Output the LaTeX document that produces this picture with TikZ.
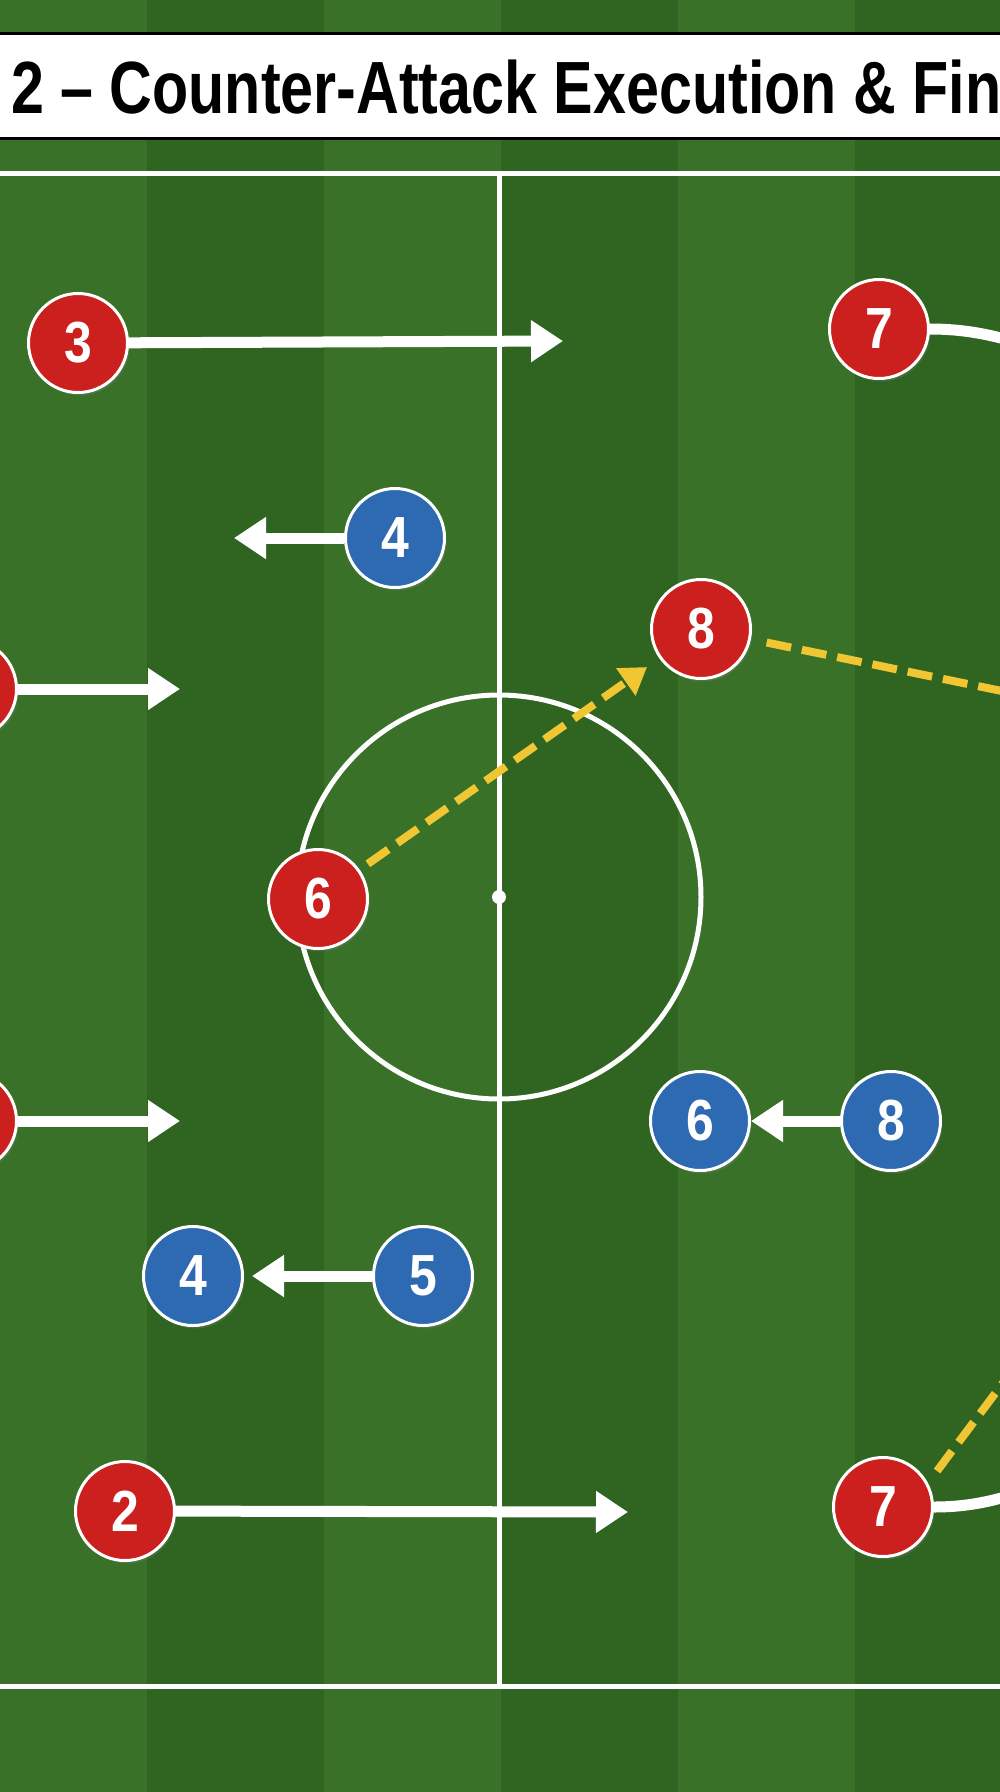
\documentclass[tikz,border=0pt]{standalone}
\usepackage{fontspec}
\setmainfont{Liberation Sans}
\newfontfamily\titlefont[FakeStretch=0.8]{Liberation Sans}
\newfontfamily\numfont[FakeStretch=0.86]{Liberation Sans}
\usetikzlibrary{arrows.meta}
\usetikzlibrary{positioning}
\usetikzlibrary{shadows}

\definecolor{turflight}{RGB}{57,113,40}
\definecolor{turfdark}{RGB}{47,100,33}
\definecolor{homered}{RGB}{204,32,30}
\definecolor{awayblue}{RGB}{46,106,178}
\definecolor{passyellow}{RGB}{240,198,50}

\tikzset{
  player/.style={circle, minimum size=99pt, inner sep=0pt, draw=white, line width=3pt,
                 text=white, font=\numfont\bfseries\fontsize{58}{58}\selectfont,
                 drop shadow={opacity=0.3, shadow xshift=2pt, shadow yshift=-3pt}},
  home/.style={player, fill=homered},
  away/.style={player, fill=awayblue},
  run/.style={draw=white, line width=11pt, -{Triangle[width=40pt,length=32pt]}},
  carry/.style={draw=white, line width=11pt},
  pass/.style={draw=passyellow, line width=8pt, dash pattern=on 25pt off 11pt},
  passend/.style={-{Triangle[width=32pt,length=26pt]}},
  pitchline/.style={draw=white, line width=5pt}
}

\begin{document}
\begin{tikzpicture}[x=1pt, y=-1pt]
    \useasboundingbox (0,0) rectangle (1000,1792);
    \clip (0,0) rectangle (1000,1792);

    % Grass stripes
    \foreach \x in {-30,324,678} {
      \fill[turflight] (\x,0) rectangle ++(177,1792);
    }
    \foreach \x in {147,501,855} {
      \fill[turfdark] (\x,0) rectangle ++(177,1792);
    }

    % Title bar
    \fill[white, draw=black, line width=3pt] (-10,33) rectangle (1010,138);
    \node[anchor=base west, inner sep=0pt, font=\titlefont\bfseries\fontsize{74}{74}\selectfont] (title) at (11,113) {2 – Counter-Attack Execution \& Fin};

    % Pitch markings
    \draw[pitchline] (-10,173) -- (1010,173);
    \draw[pitchline] (-10,1686) -- (1010,1686);
    \draw[pitchline] (499,173) -- (499,1686);
    \draw[pitchline] (499,897) circle (202);
    \fill[white] (499,897) circle (7);

    % Attacking side
    \node[home] (r3) at (78,343) {3};
    \coordinate (r3run) at (563,341);
    \draw[run] (r3) -- (r3run);

    \node[home] (rl1) at (-33,689) {};
    \coordinate (rl1run) at (180,689);
    \draw[run] (rl1) -- (rl1run);

    \node[home] (rl2) at (-33,1121) {};
    \coordinate (rl2run) at (180,1121);
    \draw[run] (rl2) -- (rl2run);

    \node[home] (r2) at (125,1511) {2};
    \coordinate (r2run) at (628,1512);
    \draw[run] (r2) -- (r2run);

    \node[home] (r6) at (318,899) {6};
    \node[home] (r8) at (701,629) {8};
    \draw[pass, passend, shorten <=10pt, shorten >=15pt] (r6) -- (r8);
    \coordinate (r8pass) at (1060,703);
    \draw[pass, shorten <=16pt] (r8) -- (r8pass);

    \node[home] (r7a) at (879,329) {7};
    \coordinate (r7acurl) at (1090,362);
    \draw[carry] (r7a) to[out=0, in=168] (r7acurl);

    \node[home] (r7b) at (883,1507) {7};
    \coordinate (r7bcurl) at (1080,1474);
    \draw[carry] (r7b) to[out=0, in=195] (r7bcurl);
    \coordinate (r7bpass) at (1068,1296);
    \draw[pass, shorten <=15pt] (r7b.28) -- (r7bpass);

    % Defending side
    \node[away] (b4a) at (395,538) {4};
    \coordinate (b4arun) at (234,538);
    \draw[run] (b4a) -- (b4arun);

    \node[away] (b6) at (700,1121) {6};
    \node[away, right=89pt of b6] (b8) {8};
    \draw[run] (b8) -- (b6);

    \node[away] (b4b) at (193,1276) {4};
    \node[away, right=128pt of b4b] (b5) {5};
    \draw[run, shorten >=8pt] (b5) -- (b4b);
\end{tikzpicture}
\end{document}
